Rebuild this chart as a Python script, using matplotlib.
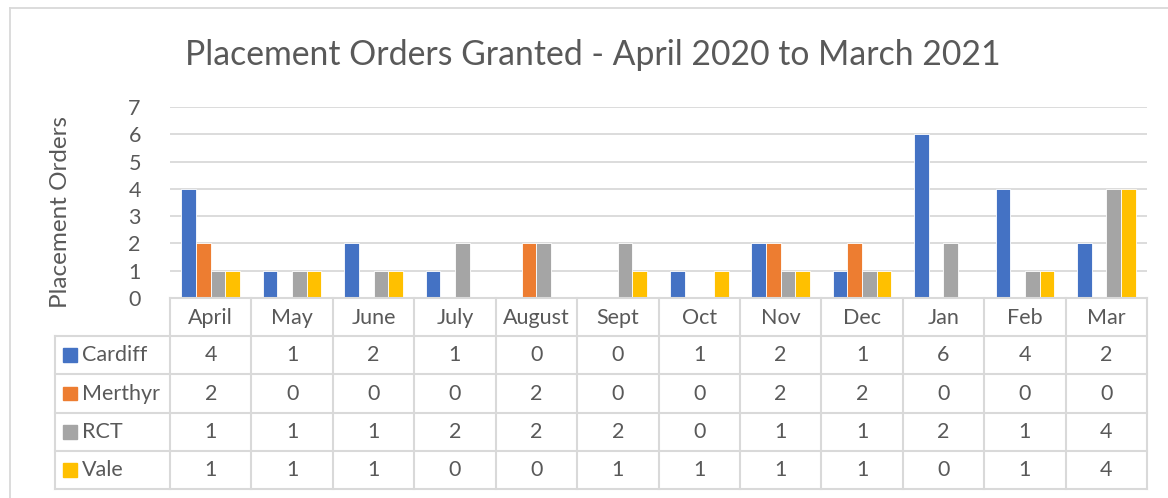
import matplotlib.pyplot as plt
import matplotlib.patches as patches
from matplotlib.lines import Line2D
import numpy as np

plt.rcParams['font.family'] = ['Lato', 'DejaVu Sans']

months = ["April", "May", "June", "July", "August", "Sept",
          "Oct", "Nov", "Dec", "Jan", "Feb", "Mar"]
series_names = ["Cardiff", "Merthyr", "RCT", "Vale"]
cardiff = [4, 1, 2, 1, 0, 0, 1, 2, 1, 6, 4, 2]
merthyr = [2, 0, 0, 0, 2, 0, 0, 2, 2, 0, 0, 0]
rct = [1, 1, 1, 2, 2, 2, 0, 1, 1, 2, 1, 4]
vale = [1, 1, 1, 0, 0, 1, 1, 1, 1, 0, 1, 4]
series = [cardiff, merthyr, rct, vale]
colors = ["#4472C4", "#ED7D31", "#A5A5A5", "#FFC000"]

W, H = 1168, 498
TXT = "#595959"
GRID = "#D9D9D9"

fig = plt.figure(figsize=(W/100, H/100), dpi=100)

def px_axes(x0, y0, x1, y1):
    # pixel box (top-left origin) -> figure axes
    return fig.add_axes([x0/W, 1 - y1/H, (x1 - x0)/W, (y1 - y0)/H])

# outer chart border
fig.add_artist(Line2D([10/W, 10/W], [0, 1 - 8/H], color=GRID, lw=1.3))
fig.add_artist(Line2D([10/W, 1], [1 - 8/H, 1 - 8/H], color=GRID, lw=1.3))

left, right, top, bottom = 170, 1147, 107, 298
ax = px_axes(left, top, right, bottom)
x = np.arange(len(months))
bw = 0.18
for i, vals in enumerate(series):
    ax.bar(x + (i - 1.5)*bw, vals, width=bw, color=colors[i],
           edgecolor="white", linewidth=0.6, zorder=3)
ax.set_xlim(-0.5, len(months) - 0.5)
ax.set_ylim(0, 7)
ax.set_yticks(range(0, 8))
ax.set_xticks([])
ax.grid(axis="y", color=GRID, lw=1.3, zorder=0)
for s in ["top", "right", "left", "bottom"]:
    ax.spines[s].set_visible(False)
ax.tick_params(axis="y", length=0, pad=21, labelsize=15.5, labelcolor=TXT)
ax.set_ylabel("Placement Orders", fontsize=17.5, color=TXT)
ax.yaxis.set_label_coords(-0.101, 0.45)

fig.text(593/W, 1 - 55/H, "Placement Orders Granted - April 2020 to March 2021",
         ha="center", va="center", fontsize=24.3, color=TXT)

# data table under the plot
lab_w = (left - 55) / ((right - left) / len(months))
tx = px_axes(55, bottom, right, 489)
tx.set_xlim(-0.5 - lab_w, len(months) - 0.5)
tx.set_ylim(5, 0)
tx.axis("off")
n = len(months)
for k in range(n + 1):
    tx.plot([k - 0.5, k - 0.5], [0, 5], color=GRID, lw=1.5, clip_on=False)
tx.plot([-0.5 - lab_w]*2, [1, 5], color=GRID, lw=1.5, clip_on=False)
tx.plot([-0.5, n - 0.5], [0, 0], color=GRID, lw=1.5, clip_on=False)
for r in range(1, 6):
    tx.plot([-0.5 - lab_w, n - 0.5], [r, r], color=GRID, lw=1.5, clip_on=False)
for j, m in enumerate(months):
    tx.text(j, 0.52, m, ha="center", va="center", fontsize=15.5, color=TXT)
for i, (name, vals) in enumerate(zip(series_names, series)):
    r = i + 1.5
    tx.add_patch(patches.Rectangle((-0.5 - lab_w + 0.1, r - 0.18), 0.17, 0.36,
                                   color=colors[i], clip_on=False))
    tx.text(-0.5 - lab_w + 0.33, r, name, ha="left", va="center",
            fontsize=15.5, color=TXT)
    for j, v in enumerate(vals):
        tx.text(j, r, str(v), ha="center", va="center", fontsize=15.5, color=TXT)

fig.savefig("out.png", dpi=100)
